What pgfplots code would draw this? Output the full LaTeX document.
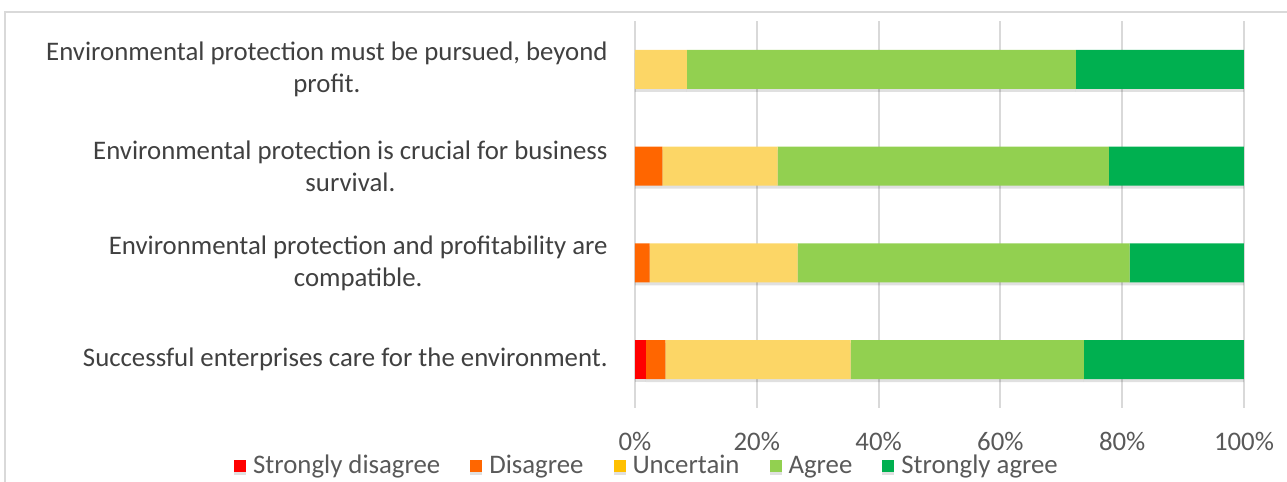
\documentclass[border=0pt]{standalone}
\usepackage{pgfplots}
\pgfplotsset{compat=1.18}
\usepackage{fontspec}
\setmainfont{Carlito}
\definecolor{cSD}{HTML}{FF0000}
\definecolor{cD}{HTML}{FF6600}
\definecolor{cU}{HTML}{FCD666}
\definecolor{cUleg}{HTML}{FFC000}
\definecolor{cA}{HTML}{92D050}
\definecolor{cSA}{HTML}{00B050}
\definecolor{gridc}{HTML}{D9D9D9}
\definecolor{txt}{HTML}{404040}
\definecolor{ticktxt}{HTML}{595959}
\begin{document}
\begin{tikzpicture}
\useasboundingbox (0,0) rectangle (643.5pt,241pt);
\draw[gridc, line width=1pt] (2.5pt,0pt) -- (2.5pt,235pt) -- (643.5pt,235pt);
\begin{axis}[
  at={(317.5pt,37pt)}, anchor=south west,
  scale only axis, width=304.5pt, height=193.5pt,
  xbar stacked, bar width=19.5pt,
  xmin=0, xmax=100, ymin=-0.5, ymax=3.5,
  axis line style={draw=none},
  major tick length=0pt,
  xtick={0,20,40,60,80,100},
  xticklabel={\pgfmathprintnumber{\tick}\%},
  /pgf/number format/assume math mode=true,
  xticklabel style={anchor=base, yshift=-21.5pt, font=\fontsize{13.4}{16}\selectfont, text=ticktxt},
  xmajorgrids, grid style={gridc, line width=1pt},
  ytick={0,1,2,3},
  yticklabels={
    {Successful enterprises care for the environment.},
    {Environmental protection and profitability are\\compatible.},
    {Environmental protection is crucial for business\\survival.},
    {Environmental protection must be pursued, beyond\\profit.}},
  yticklabel style={align=center, anchor=east, xshift=-13.5pt, inner sep=0pt,
    font=\fontsize{13.4}{16}\selectfont, text=txt},
  legend columns=5,
  legend style={draw=none, fill=none, at={(0.0213,-0.1499)}, anchor=center,
    font=\fontsize{13.4}{16}\selectfont, text=ticktxt,
    /tikz/every odd column/.append style={column sep=1.5pt},
    /tikz/every even column/.append style={column sep=13pt}},
  legend image code/.code={\fill[#1] (0pt,-3pt) rectangle (6pt,3pt);},
  every axis plot/.append style={draw=none,
    preaction={fill=black, fill opacity=0.12, transform canvas={yshift=-1.5pt}}},
]
\addplot[fill=cSD] coordinates {(1.8,0) (0,1) (0,2) (0,3)};
\addlegendentry{Strongly disagree}
\addplot[fill=cD] coordinates {(3.2,0) (2.4,1) (4.5,2) (0,3)};
\addlegendentry{Disagree}
\addplot[fill=cU, legend image post style={fill=cUleg}] coordinates {(30.4,0) (24.3,1) (18.9,2) (8.5,3)};
\addlegendentry{Uncertain}
\addplot[fill=cA] coordinates {(38.3,0) (54.5,1) (54.4,2) (63.9,3)};
\addlegendentry{Agree}
\addplot[fill=cSA] coordinates {(26.3,0) (18.8,1) (22.2,2) (27.6,3)};
\addlegendentry{Strongly agree}
\end{axis}
\end{tikzpicture}
\end{document}
